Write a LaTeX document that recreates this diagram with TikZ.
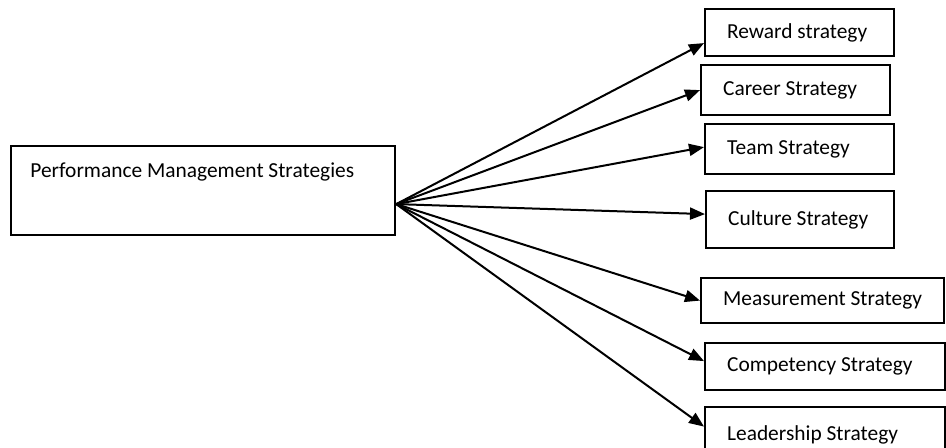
\documentclass[tikz,border=0pt]{standalone}
\usepackage{fontspec}
\setmainfont{Carlito}
\usetikzlibrary{arrows.meta}

\begin{document}
\begin{tikzpicture}[x=0.5pt,y=-0.5pt,
		font=\fontsize{10.7}{12.8}\selectfont,
		box/.style={draw,line width=1.1pt,anchor=north west,inner xsep=11pt,align=flush left},
		fan/.style={-{Triangle[length=7.5pt,width=6pt]},line width=1pt}]
		\useasboundingbox (0,0) rectangle (946,448);

		\node[draw,line width=1.1pt,anchor=north west,minimum width=192pt,minimum height=44.5pt] (pms) at (10,145) {};
		\node[anchor=base west,inner sep=0pt] (pmslbl) at (30,177.5) {Performance Management Strategies};
		\coordinate (hub) at ([yshift=-6.75pt]pms.east);

		\node[box,text width=72.5pt,minimum height=23.5pt] (rew) at (704,8) {Reward strategy};
		\node[box,text width=72.5pt,minimum height=25pt] (car) at (700,64) {Career Strategy};
		\node[box,text width=72.5pt,minimum height=25pt] (team) at (704,123) {Team Strategy};
		\node[box,text width=72pt,minimum height=28.5pt] (cult) at (705,190) {Culture Strategy};
		\node[box,text width=99.5pt,minimum height=22.5pt] (meas) at (700,277) {Measurement Strategy};
		\node[box,text width=98pt,minimum height=23.5pt] (comp) at (704,342) {Competency Strategy};
		\node[box,text width=98pt,minimum height=28pt] (lead) at (704,406) {Leadership Strategy};

		\draw[fan] (hub)--([yshift=-5.25pt]rew.west);
		\draw[fan] (hub)--(car.west);
		\draw[fan] (hub)--([yshift=1pt]team.west);
		\draw[fan] (hub)--([yshift=2.75pt]cult.west);
		\draw[fan] (hub)--(meas.west);
		\draw[fan] (hub)--([yshift=2.75pt]comp.west);
		\draw[fan] (hub)--([yshift=4.25pt]lead.west);
	\end{tikzpicture}
\end{document}
